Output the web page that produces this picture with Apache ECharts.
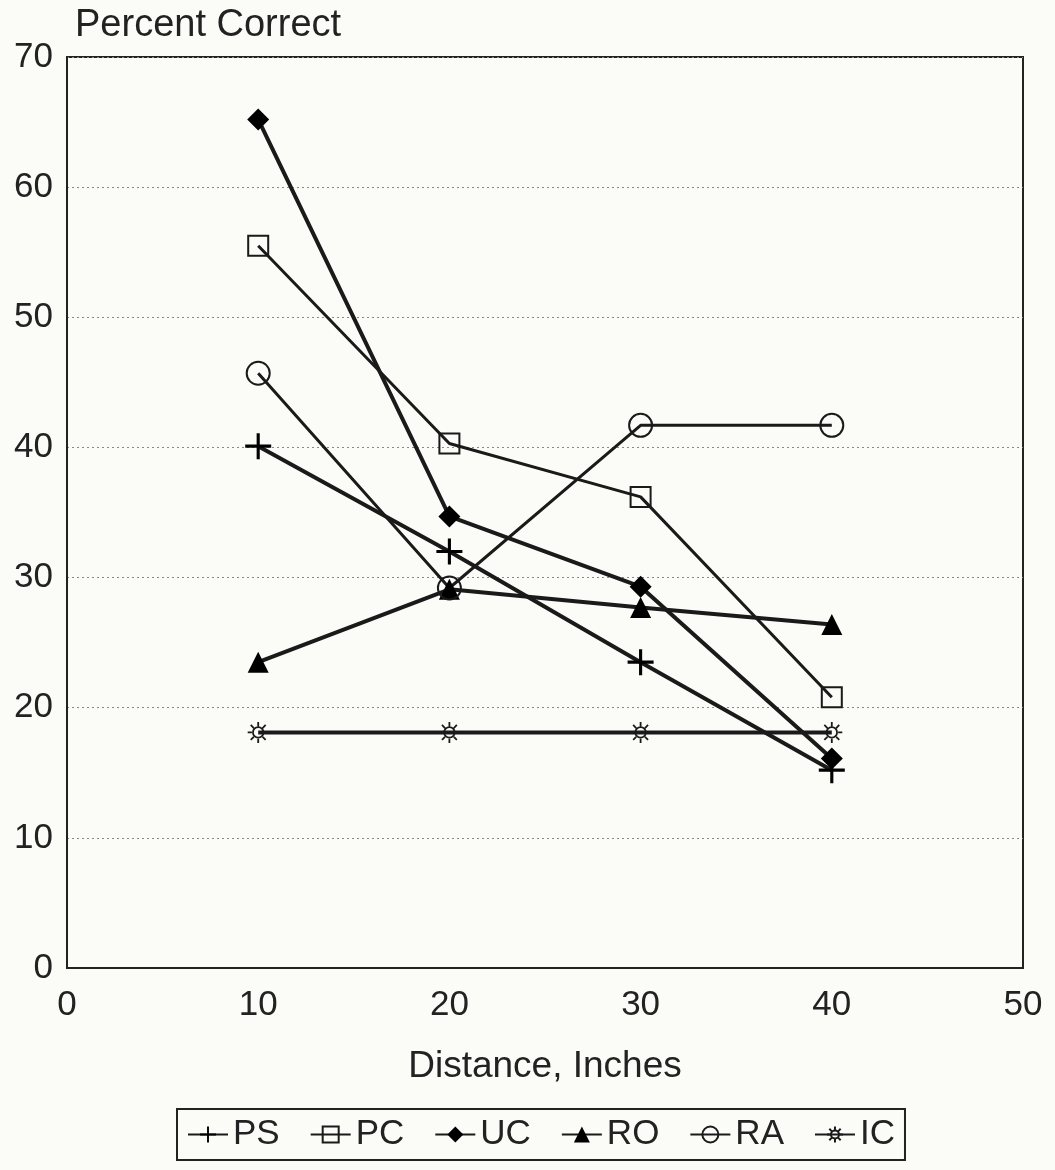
<!DOCTYPE html>
<html>
<head>
<meta charset="utf-8">
<script src="https://cdn.jsdelivr.net/npm/echarts@6/dist/echarts.min.js"></script>
<style>
html,body{margin:0;padding:0;background:#fbfbf7;}
#c{width:1055px;height:1170px;}
</style>
</head>
<body>
<div id="c"></div>
<script>
var distances = [10, 20, 30, 40];
var seriesNames = ['PS', 'PC', 'UC', 'RO', 'RA', 'IC'];
var PS = [40.1, 32.0, 23.5, 15.2];
var PC = [55.5, 40.3, 36.2, 20.8];
var UC = [65.2, 34.7, 29.3, 16.1];
var RO = [23.5, 29.1, 27.7, 26.4];
var RA = [45.7, 29.2, 41.7, 41.7];
var IC = [18.1, 18.1, 18.1, 18.1];
var xTicks = [0, 10, 20, 30, 40, 50];
var yTicks = [0, 10, 20, 30, 40, 50, 60, 70];

var FONT = 'Liberation Sans, Arial, Helvetica, sans-serif';
var plusPath = 'path://M-1.2,-10H1.2V-1.2H10V1.2H1.2V10H-1.2V1.2H-10V-1.2H-1.2Z';
var sunPath = 'path://M-5,0A5,5,0,1,1,5,0A5,5,0,1,1,-5,0Z M0,-6L0,-10 M0,6L0,10 M-6,0L-10,0 M6,0L10,0 M4.2,4.2L7.1,7.1 M-4.2,4.2L-7.1,7.1 M4.2,-4.2L7.1,-7.1 M-4.2,-4.2L-7.1,-7.1';

var dataSets = [PS, PC, UC, RO, RA, IC];
var styles = [
  {symbol: plusPath, size: 26, fill: '#000', bw: 0, lw: 4},
  {symbol: 'rect', size: 20, fill: 'transparent', bw: 2, lw: 3},
  {symbol: 'diamond', size: 22, fill: '#000', bw: 0, lw: 4},
  {symbol: 'triangle', size: 21, fill: '#000', bw: 0, lw: 4},
  {symbol: 'circle', size: 23, fill: 'transparent', bw: 2, lw: 3},
  {symbol: sunPath, size: 21, fill: 'transparent', bw: 1.8, lw: 4}
];

var series = seriesNames.map(function (n, i) {
  var s = styles[i];
  return {
    name: n,
    type: 'line',
    data: distances.map(function (d, j) { return [d, dataSets[i][j]]; }),
    symbol: s.symbol,
    symbolSize: s.size,
    showAllSymbol: true,
    lineStyle: {color: '#1a1a1a', width: s.lw},
    itemStyle: {color: s.fill, borderColor: '#1a1a1a', borderWidth: s.bw},
    emphasis: {disabled: true},
    animation: false
  };
});

var chart = echarts.init(document.getElementById('c'));
chart.setOption({
  backgroundColor: '#fbfbf7',
  animation: false,
  grid: {left: 67, right: 32, top: 57, bottom: 202, show: true, borderColor: '#222', borderWidth: 2, backgroundColor: 'transparent'},
  xAxis: {
    type: 'value', min: 0, max: 50, interval: 10,
    name: 'Distance, Inches', nameLocation: 'middle', nameGap: 80,
    nameTextStyle: {fontFamily: FONT, fontSize: 37, color: '#222'},
    axisLine: {show: true, lineStyle: {color: '#222', width: 2}},
    axisTick: {show: false},
    splitLine: {show: false},
    axisLabel: {fontFamily: FONT, fontSize: 35, color: '#222', margin: 20,
      formatter: function (v) { return xTicks.indexOf(v) >= 0 ? String(v) : ''; }}
  },
  yAxis: {
    type: 'value', min: 0, max: 70, interval: 10,
    name: 'Percent Correct', nameLocation: 'end', nameGap: 12,
    nameTextStyle: {fontFamily: FONT, fontSize: 38, color: '#222', align: 'left', padding: [0, 0, 0, 8]},
    axisLine: {show: true, lineStyle: {color: '#222', width: 2}},
    axisTick: {show: false},
    splitLine: {show: true, lineStyle: {color: '#888', width: 1, type: [2, 3]}},
    axisLabel: {fontFamily: FONT, fontSize: 35, color: '#222', margin: 14,
      formatter: function (v) { return yTicks.indexOf(v) >= 0 ? String(v) : ''; }}
  },
  legend: {
    data: seriesNames,
    bottom: 10, left: 177,
    orient: 'horizontal',
    borderColor: '#222', borderWidth: 2,
    padding: [8, 10, 8, 10],
    itemGap: 30, itemWidth: 40, itemHeight: 20,
    textStyle: {fontFamily: FONT, fontSize: 35, color: '#222'}
  },
  series: series
});
</script>
</body>
</html>
